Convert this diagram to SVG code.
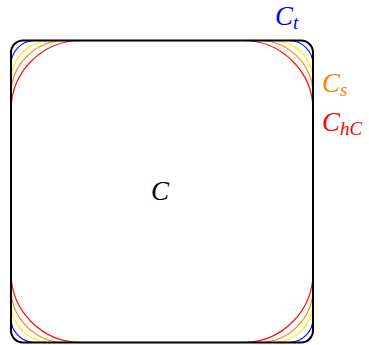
<svg xmlns="http://www.w3.org/2000/svg" width="369" height="345" viewBox="0 0 369 345">
<style>
.c{fill:none;stroke-width:1.1}
.lbl{font-family:"Liberation Serif","DejaVu Serif",serif;font-style:italic}
</style>
<rect width="369" height="345" fill="#fff"/>
<g id="curves">
<rect id="Ch" class="c" x="11" y="40.5" width="302" height="302" rx="70" stroke="#ff0000"/>
<rect id="Cs" class="c" x="11" y="40.5" width="302" height="302" rx="54" stroke="#ff8000"/>
<rect id="Cy" class="c" x="11" y="40.5" width="302" height="302" rx="40" stroke="#ffee00"/>
<rect id="Ct" class="c" x="11" y="40.5" width="302" height="302" rx="24" stroke="#0000ff"/>
</g>
<g id="square">
<rect x="11" y="40.5" width="302" height="302" rx="12" fill="none" stroke="#000" stroke-width="2"/>
</g>
<g id="labels" class="lbl">
<text x="151" y="200" font-size="27" fill="#000">C</text>
<text x="275" y="25" font-size="27" fill="#0000ff">C<tspan font-size="19" dy="4">t</tspan></text>
<text x="322" y="92" font-size="27" fill="#ff8000">C<tspan font-size="19" dy="4">s</tspan></text>
<text x="322" y="131" font-size="27" fill="#ff0000">C<tspan font-size="19" dy="4">hC</tspan></text>
</g>
</svg>
